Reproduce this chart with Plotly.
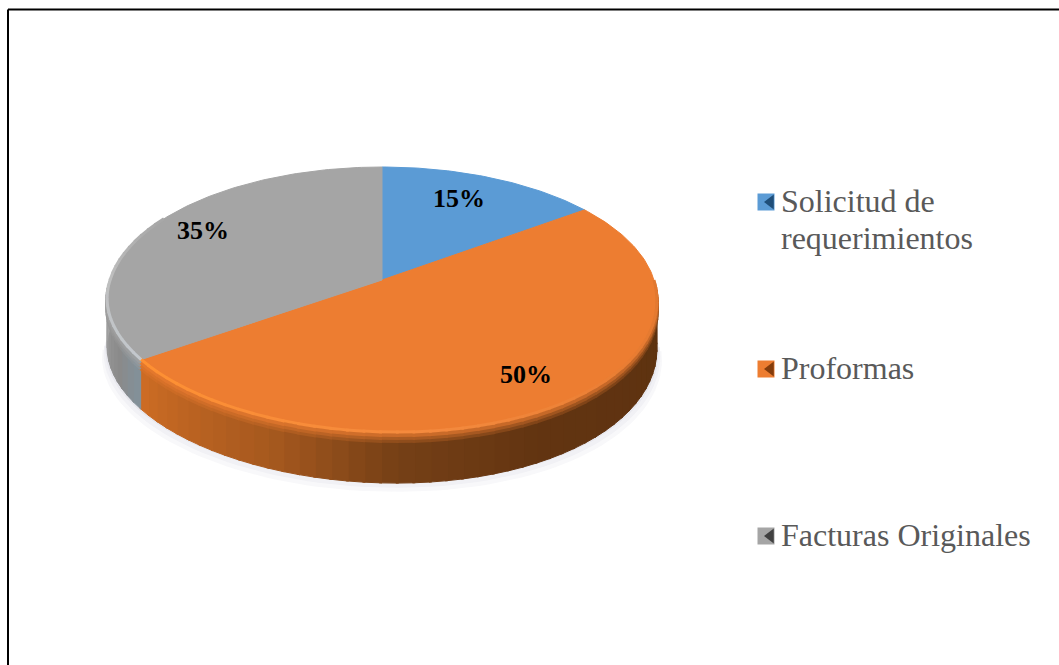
import math
import plotly.graph_objects as go

categories = ["Solicitud de requerimientos", "Proformas", "Facturas Originales"]
values = [15, 50, 35]
legend_lines = [["Solicitud de", "requerimientos"], ["Proformas"], ["Facturas Originales"]]
colors = ["#5B9BD5", "#ED7D31", "#A5A5A5"]
label_text = ["15%", "50%", "35%"]

# projection of the pie disc (page pixels)
CX, CY, A, B, P = 382, 280, 272, 129.6, 0.147
SKEW = 8
W, H = 1059, 665


def project(theta_deg):
    t = math.radians(theta_deg)
    u, v = math.sin(t), math.cos(t)
    d = 1 + P * v
    y = CY - B * v / d
    if v < 0:
        y += SKEW * u * (-v)
    return A * u / d + CX, y


def depth(theta_deg):
    return 48 + 3 * max(0, -math.cos(math.radians(theta_deg)))


def arc(a0, a1, step=1.0):
    n = max(2, int(abs(a1 - a0) / step) + 1)
    return [a0 + (a1 - a0) * i / (n - 1) for i in range(n)]


def xy(angles_):
    return [project(a) for a in angles_]


def mix(c1, c2, f):
    return tuple(c1[i] + (c2[i] - c1[i]) * f for i in range(3))


def rgb(c):
    return "rgb(%d,%d,%d)" % tuple(round(x) for x in c)


def ramp(stops, a):
    for (a0, c0), (a1, c1) in zip(stops, stops[1:]):
        if a0 <= a <= a1:
            return mix(c0, c1, (a - a0) / (a1 - a0))
    return stops[0][1] if a < stops[0][0] else stops[-1][1]


wall_orange = [(90, (92, 50, 16)), (150, (98, 52, 17)), (178, (118, 64, 22)),
               (200, (165, 88, 30)), (234, (205, 108, 36))]
wall_gray = [(234, (130, 145, 155)), (245, (138, 138, 138)), (270, (165, 165, 165))]
rim_orange = [(90, (225, 120, 48)), (120, (232, 124, 50)), (170, (244, 138, 62)), (234, (255, 145, 50))]
rim_gray = [(234, (195, 200, 205)), (270, (190, 190, 190)), (300, (165, 165, 165))]
ORANGE_TOP = (237, 125, 49)
GRAY_TOP = (165, 165, 165)

fig = go.Figure()


def poly(pts, fill, line=None, width=1):
    fig.add_trace(go.Scatter(
        x=[p[0] for p in pts], y=[p[1] for p in pts], mode="lines", fill="toself",
        fillcolor=fill, line=dict(color=line or fill, width=width),
        hoverinfo="skip", showlegend=False))


def stroke(pts, color, width):
    fig.add_trace(go.Scatter(x=[p[0] for p in pts], y=[p[1] for p in pts], mode="lines",
                             line=dict(color=color, width=width), hoverinfo="skip", showlegend=False))


# soft shadow under the pie
for off, col in [(11, "#f8f8fa"), (7, "#f1f1f5"), (3, "#e8e8ee")]:
    ell = xy(arc(95, 265, 2))
    poly([(x + (off if x > CX else -off) * 0.4, y + 48 + off) for x, y in ell], col)

total = sum(values)
cum = [0]
for v in values:
    cum.append(cum[-1] + v)
angles = [c / total * 360 for c in cum]

# side wall, split in thin shaded strips
for a in range(90, 270, 3):
    mid = a + 1.75
    col = ramp(wall_orange, mid) if mid < angles[2] else ramp(wall_gray, mid)
    aa = arc(a, a + 3.5, 1)
    top = xy(aa)
    bottom = [(p[0], p[1] + depth(t)) for p, t in zip(top, aa)]
    poly(top + bottom[::-1], rgb(col))

# bevel between wall and top face
for off, f, w in [(9, 0.22, 4), (6, 0.45, 4), (3, 0.72, 4)]:
    for a in range(90, 270, 3):
        mid = a + 1.75
        is_orange = mid < angles[2]
        wall = ramp(wall_orange, mid) if is_orange else ramp(wall_gray, mid)
        top = ORANGE_TOP if is_orange else GRAY_TOP
        pts = [(x, y + off) for x, y in xy(arc(a, a + 3.5, 1))]
        stroke(pts, rgb(mix(wall, top, f)), w)

# top faces
for i in range(len(values)):
    poly([(CX, CY)] + xy(arc(angles[i], angles[i + 1])) + [(CX, CY)], colors[i])

# rim highlight
for a in range(int(angles[1]) + 36, int(angles[2]), 3):
    stroke(xy(arc(a, a + 3.5, 1)), rgb(ramp(rim_orange, a)), 3)
for a in range(int(angles[2]), 300, 3):
    stroke(xy(arc(a, a + 3.5, 1)), rgb(ramp(rim_gray, a)), 3)

# legend markers
marker_y = [202, 369, 536]
dark = ["#1F4E79", "#843C0C", "#404040"]
fig.add_trace(go.Scatter(x=[766] * 3, y=marker_y, mode="markers", hoverinfo="skip", showlegend=False,
                         marker=dict(symbol="square", size=17, color=colors, line=dict(width=0))))
fig.add_trace(go.Scatter(x=[770.5] * 3, y=marker_y, mode="markers", hoverinfo="skip", showlegend=False,
                         marker=dict(symbol="triangle-left", size=13, color=dark, line=dict(width=0))))

serif = "Liberation Serif, Times New Roman, serif"
label_pos = [(459, 198), (526, 374), (203, 230)]
annotations = []
for txt, (x, y) in zip(label_text, label_pos):
    annotations.append(dict(x=x, y=y, text="<b>%s</b>" % txt, showarrow=False, xanchor="center", yanchor="middle",
                            font=dict(family=serif, size=26, color="#000000")))
line_y = [[201, 238], [368], [535]]
for lines, ys in zip(legend_lines, line_y):
    for txt, y in zip(lines, ys):
        annotations.append(dict(x=779, y=y, text=txt, showarrow=False, xanchor="left", yanchor="middle",
                                font=dict(family=serif, size=32, color="#595959")))

frame = [
    dict(type="line", x0=8, x1=W, y0=9.5, y1=9.5, line=dict(color="#000000", width=2), layer="above"),
    dict(type="line", x0=8, x1=8, y0=9.5, y1=H, line=dict(color="#000000", width=2), layer="above"),
]

fig.update_layout(
    width=W, height=H, margin=dict(l=0, r=0, t=0, b=0),
    paper_bgcolor="#ffffff", plot_bgcolor="#ffffff", showlegend=False,
    xaxis=dict(range=[0, W], visible=False, fixedrange=True),
    yaxis=dict(range=[H, 0], visible=False, fixedrange=True),
    annotations=annotations, shapes=frame,
)

fig.write_html("out.html", config={"displayModeBar": False},
               post_script="document.body.style.margin='0';document.body.style.overflow='hidden';")
